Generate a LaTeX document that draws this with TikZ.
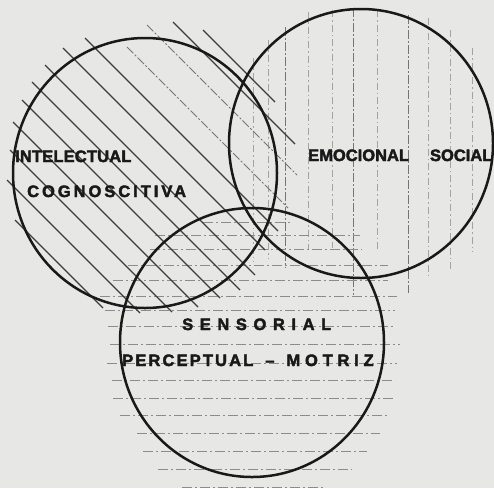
\documentclass[tikz,border=0pt]{standalone}
\usepackage{fontspec}
\setmainfont{Liberation Sans}
\newfontfamily\lblfont{Liberation Sans Bold}[FakeBold=2.5, Ligatures=TeX]
\definecolor{paper}{RGB}{231,231,229}
\definecolor{ink}{RGB}{25,25,25}
\begin{document}
\begin{tikzpicture}[x=1pt,y=-1pt,
  ring/.style={line width=2.5pt, draw=ink},
  hatch/.style={line width=1.1pt, draw=ink!85},
  hatchfaint/.style={line width=0.9pt, draw=ink!60, dash pattern=on 9pt off 2pt on 2pt off 2pt},
  vline/.style={line width=0.9pt, draw=ink!40, dash pattern=on 7pt off 3pt on 1.5pt off 3pt},
  vlinedark/.style={line width=1pt, draw=ink!60, dash pattern=on 9pt off 2pt on 2pt off 2pt},
  hline/.style={line width=0.9pt, draw=ink!50, dash pattern=on 10pt off 3pt on 2pt off 3pt},
  lbl/.style={font=\lblfont\fontsize{16.5}{18}\selectfont, inner sep=0pt, anchor=base west, text=ink}]
\fill[paper] (0,0) rectangle (494,488);
\useasboundingbox (0,0) rectangle (494,488);

% vertical dash-dot lines (right circle)
\foreach \x/\t/\b in {253/58/262, 268/40/258, 308/12/250, 332/10/248, 377/10/250, 428/18/275, 450/30/272, 472/48/252}
  \draw[vline] (\x,\t) -- (\x,\b);
\foreach \x/\t/\b in {285/27/268, 353/8/295, 408/15/293}
  \draw[vlinedark] (\x,\t) -- (\x,\b);

% horizontal dash-dot lines (bottom circle)
\foreach \y/\l/\r in {222/203/290, 235/155/360, 249/150/362, 265/128/388, 280/113/388, 296/100/397, 310/105/395, 326/108/393, 344/110/400, 363/107/397, 380/112/395, 398/113/393, 415/120/387, 433/137/380, 451/143/367, 469/158/352, 487/182/323}
  \draw[hline] (\l,\y) -- (\r,\y);

% diagonal hatching (left circle)
\foreach \c/\a/\b in {-173/203/275, -151/173/295, -47/85/278, -15/63/265, 20/45/255, 50/32/240, 78/22/220, 109/13/198, 140/10/172, 173/7/140, 205/15/103}
  \draw[hatch] ({\a},{\a+\c}) -- ({\b},{\b+\c});
\foreach \c/\a/\b in {-122/147/297, -80/127/288}
  \draw[hatchfaint] ({\a},{\a+\c}) -- ({\b},{\b+\c});

% circles
\draw[ring] (145,173) ellipse [x radius=132, y radius=135];
\draw[ring] (361,143.5) ellipse [x radius=132, y radius=134.5];
\draw[ring] (252,342.5) ellipse [x radius=132, y radius=134.5];

% labels
\node[lbl] (intel) at (15,162) {\addfontfeature{LetterSpace=1}INTELECTUAL};
\node[lbl] (cogn) at (27,197) {\addfontfeature{LetterSpace=18}COGNOSCITIVA};
\node[lbl] (emoc) at (308,161) {EMOCIONAL\hspace{21pt}SOCIAL};
\node[lbl] (sens) at (182,330) {\addfontfeature{LetterSpace=40}SENSORIAL};
\node[lbl] (perc) at (122,366) {{\addfontfeature{LetterSpace=13}PERCEPTUAL}\hspace{12pt}\textendash\hspace{12pt}{\addfontfeature{LetterSpace=29}MOTRIZ}};
\end{tikzpicture}
\end{document}
